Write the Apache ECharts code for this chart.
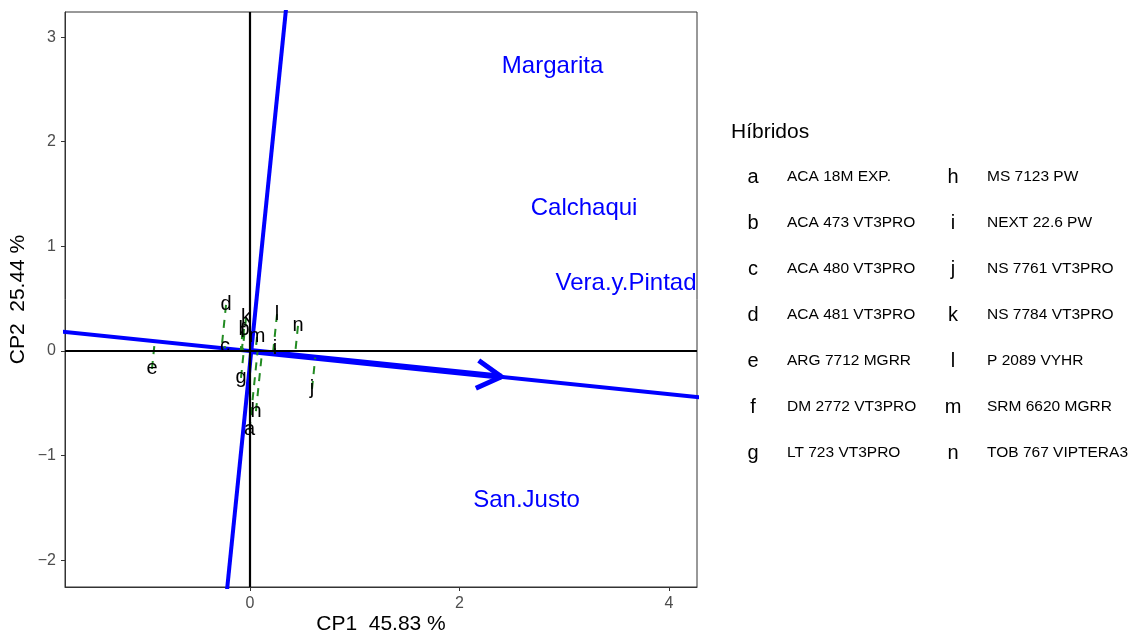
<!DOCTYPE html>
<html>
<head>
<meta charset="utf-8">
<script src="https://cdn.jsdelivr.net/npm/echarts@6/dist/echarts.min.js"></script>
<style>
html,body{margin:0;padding:0;background:#fff;}
#chart{width:1135px;height:635px;}
</style>
</head>
<body>
<div id="chart"></div>
<script>
// ---- data ----
const genotypeCodes = ['a','b','c','d','e','f','g','h','i','j','k','l','m','n'];
const genotypeX = [-0.005, -0.057, -0.239, -0.229, -0.936, -0.070, -0.086, 0.057, 0.239, 0.592, -0.038, 0.258, 0.067, 0.458];
const genotypeY = [-0.755, 0.210, 0.047, 0.440, -0.172, 0.190, -0.258, -0.574, 0.028, -0.363, 0.316, 0.353, 0.134, 0.239];
const hybridNames = ['ACA 18M EXP.','ACA 473 VT3PRO','ACA 480 VT3PRO','ACA 481 VT3PRO','ARG 7712 MGRR','DM 2772 VT3PRO','LT 723 VT3PRO','MS 7123 PW','NEXT 22.6 PW','NS 7761 VT3PRO','NS 7784 VT3PRO','P 2089 VYHR','SRM 6620 MGRR','TOB 767 VIPTERA3'];
const envNames = ['Margarita','Calchaqui','Vera.y.Pintado','San.Justo'];
const envX = [2.888, 3.189, 3.653, 2.640];
const envY = [2.720, 1.360, 0.645, -1.425];
const atcTip = [2.40, -0.247];
const abscissaLine = [[-1.85, 0.1906], [4.35, -0.4487]];
const ordinateLine = [[-0.225, -2.34], [0.350, 3.33]];
const xTicks = [0, 2, 4];
const yTicks = [-2, -1, 0, 1, 2, 3];
const xTitle = 'CP1  45.83 %';
const yTitle = 'CP2  25.44 %';
const legendTitle = 'Híbridos';

const FONT = '"Liberation Sans", Arial, Helvetica, sans-serif';
const minus = v => String(v).replace('-', '\u2212');

const genoData = genotypeCodes.map((c, i) => [genotypeX[i], genotypeY[i], c]);
const envData = envNames.map((n, i) => [envX[i], envY[i], n]);

// legend graphics
const legendEls = [{
  type: 'text', x: 731, y: 132, z: 100,
  style: {text: legendTitle, font: '21px ' + FONT, fill: '#000', align: 'left', verticalAlign: 'middle'}
}];
genotypeCodes.forEach((c, i) => {
  const col = Math.floor(i / 7), row = i % 7;
  const cx = 753 + col * 200, cy = 177 + row * 46;
  legendEls.push({type: 'text', x: cx, y: cy, z: 100,
    style: {text: c, font: '20px ' + FONT, fill: '#000', align: 'center', verticalAlign: 'middle'}});
  legendEls.push({type: 'text', x: cx + 34, y: cy, z: 100,
    style: {text: hybridNames[i], font: '15.5px ' + FONT, fill: '#000', align: 'left', verticalAlign: 'middle'}});
});

const chart = echarts.init(document.getElementById('chart'), null, {renderer: 'canvas'});
chart.setOption({
  animation: false,
  backgroundColor: '#fff',
  grid: {left: 65, right: 438, top: 12, bottom: 48, show: true, borderColor: '#333', borderWidth: 1,
         containLabel: false, outerBoundsMode: 'none'},
  xAxis: {
    type: 'value', min: -1.766, max: 4.267,
    splitLine: {show: false},
    axisLine: {show: true, onZero: false, lineStyle: {color: '#333', width: 1}},
    axisTick: {show: true, length: 4, customValues: xTicks, lineStyle: {color: '#333', width: 1}},
    axisLabel: {customValues: xTicks, color: '#4d4d4d', fontSize: 16, fontFamily: FONT, margin: 9, formatter: minus},
    name: xTitle, nameLocation: 'middle', nameGap: 27, nameMoveOverlap: false,
    nameTextStyle: {color: '#000', fontSize: 21, fontFamily: FONT}
  },
  yAxis: {
    type: 'value', min: -2.256, max: 3.24,
    splitLine: {show: false},
    axisLine: {show: true, onZero: false, lineStyle: {color: '#333', width: 1}},
    axisTick: {show: true, length: 4, customValues: yTicks, lineStyle: {color: '#333', width: 1}},
    axisLabel: {customValues: yTicks, color: '#4d4d4d', fontSize: 16, fontFamily: FONT, margin: 9, formatter: minus},
    name: yTitle, nameLocation: 'middle', nameGap: 36, nameMoveOverlap: false,
    nameTextStyle: {color: '#000', fontSize: 21, fontFamily: FONT}
  },
  graphic: legendEls,
  series: [
    {
      type: 'line', data: [], z: 1, silent: true,
      markLine: {
        silent: true, symbol: ['none', 'none'], label: {show: false},
        lineStyle: {color: '#000', width: 2.2, type: 'solid'},
        data: [{xAxis: 0}, {yAxis: 0}]
      }
    },
    {type: 'line', data: abscissaLine, showSymbol: false, symbol: 'none', clip: true, z: 2, silent: true,
     lineStyle: {color: '#0000ff', width: 4}},
    {type: 'line', data: ordinateLine, showSymbol: false, symbol: 'none', clip: true, z: 2, silent: true,
     lineStyle: {color: '#0000ff', width: 4}},
    {
      type: 'custom', z: 3, silent: true, clip: true,
      data: [[0, 0, atcTip[0], atcTip[1]]],
      renderItem: function (params, api) {
        const o = api.coord([api.value(0), api.value(1)]);
        const t = api.coord([api.value(2), api.value(3)]);
        let dx = t[0] - o[0], dy = t[1] - o[1];
        const len = Math.sqrt(dx * dx + dy * dy);
        const bx = -dx / len, by = -dy / len;
        const L = 28, a = Math.PI / 6;
        const ca = Math.cos(a), sa = Math.sin(a);
        const b1 = [t[0] + L * (ca * bx - sa * by), t[1] + L * (sa * bx + ca * by)];
        const b2 = [t[0] + L * (ca * bx + sa * by), t[1] + L * (-sa * bx + ca * by)];
        return {
          type: 'group', children: [
            {type: 'line', shape: {x1: o[0], y1: o[1], x2: t[0], y2: t[1]},
             style: {stroke: '#0000ff', lineWidth: 6}},
            {type: 'polyline', shape: {points: [b1, t, b2]},
             style: {stroke: '#0000ff', lineWidth: 5, fill: null, lineJoin: 'miter'}}
          ]
        };
      }
    },
    {
      type: 'custom', z: 4, silent: true, clip: true,
      data: genoData,
      renderItem: function (params, api) {
        const px = api.value(0), py = api.value(1);
        const n = Math.sqrt(atcTip[0] * atcTip[0] + atcTip[1] * atcTip[1]);
        const ux = atcTip[0] / n, uy = atcTip[1] / n;
        const d = px * ux + py * uy;
        const p = api.coord([px, py]);
        const q = api.coord([d * ux, d * uy]);
        return {type: 'line', shape: {x1: p[0], y1: p[1], x2: q[0], y2: q[1]},
                style: {stroke: '#228b22', lineWidth: 2, lineDash: [8, 7]}};
      }
    },
    {
      type: 'custom', z: 5, silent: true, clip: true,
      data: envData,
      renderItem: function (params, api) {
        const p = api.coord([api.value(0), api.value(1)]);
        return {type: 'text', x: p[0], y: p[1],
                style: {text: envNames[params.dataIndex], font: '24px ' + FONT, fill: '#0000ff', align: 'center', verticalAlign: 'middle'}};
      }
    },
    {
      type: 'custom', z: 6, silent: true, clip: true,
      data: genoData,
      renderItem: function (params, api) {
        const p = api.coord([api.value(0), api.value(1)]);
        return {type: 'text', x: p[0], y: p[1],
                style: {text: genotypeCodes[params.dataIndex], font: '20px ' + FONT, fill: '#000', align: 'center', verticalAlign: 'middle'}};
      }
    }
  ]
});
</script>
</body>
</html>
